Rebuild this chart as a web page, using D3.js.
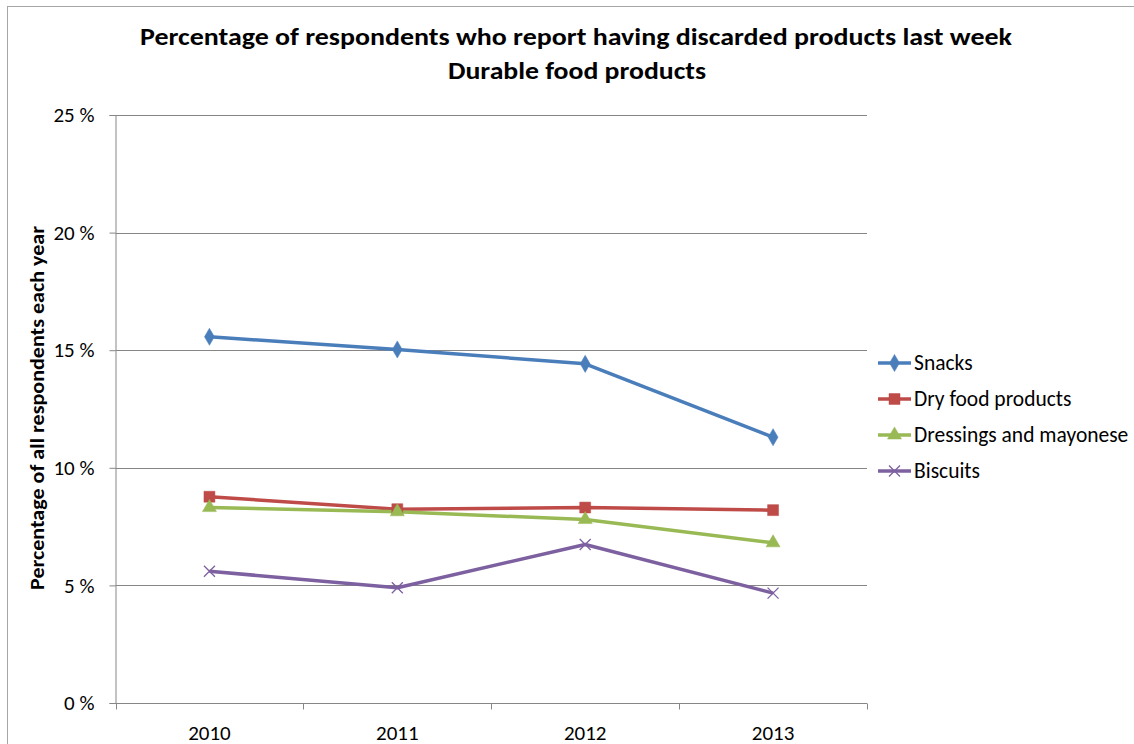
<!DOCTYPE html>
<html>
<head>
<meta charset="utf-8">
<script src="https://cdn.jsdelivr.net/npm/d3@7"></script>
<style>
  html, body { margin: 0; padding: 0; background: #fff; }
  svg { display: block; font-family: Calibri, Carlito, Lato, "Open Sans", sans-serif; }
</style>
</head>
<body>
<svg id="chart" width="1134" height="744"></svg>
<script>
// Survey years on the category axis
const years = ["2010", "2011", "2012", "2013"];

// Share of respondents (%) who discarded each product group last week
const snacks     = [15.57, 15.03, 14.42, 11.30];
const dryFood    = [8.77, 8.24, 8.31, 8.20];
const dressings  = [8.31, 8.13, 7.80, 6.81];
const biscuits   = [5.60, 4.90, 6.74, 4.67];

const seriesNames = ["Snacks", "Dry food products", "Dressings and mayonese", "Biscuits"];
const yTicks = [0, 5, 10, 15, 20, 25];

const titleLines = [
  "Percentage of respondents who report having discarded products last week",
  "Durable food products"
];
const yAxisTitle = "Percentage of all respondents each year";

const series = [
  { name: seriesNames[0], values: snacks,    color: "#4A7EBB", symbol: d3.symbolDiamond,  size: 85 },
  { name: seriesNames[1], values: dryFood,   color: "#BE4B48", symbol: d3.symbolSquare,   size: 120 },
  { name: seriesNames[2], values: dressings, color: "#98B954", symbol: d3.symbolTriangle, size: 85 },
  { name: seriesNames[3], values: biscuits,  color: "#7D60A0", symbol: "cross",           size: 0 }
];

const svg = d3.select("#chart");
const gridColor = "#868686";
const labelSize = 21;

// Chart frame
svg.append("rect")
  .attr("x", 7.5).attr("y", 6.5)
  .attr("width", 1140).attr("height", 760)
  .attr("fill", "none").attr("stroke", "#a6a6a6").attr("stroke-width", 1);

const plot = { left: 115.5, right: 867, top: 115, bottom: 703 };

const x = d3.scaleBand().domain(years).range([plot.left, plot.right]).paddingInner(0).paddingOuter(0);
const y = d3.scaleLinear().domain([0, 25]).range([plot.bottom, plot.top]);

// Horizontal gridlines
svg.append("g")
  .selectAll("line")
  .data(yTicks.filter(t => t > 0))
  .join("line")
  .attr("x1", plot.left).attr("x2", plot.right)
  .attr("y1", d => Math.round(y(d)) + 0.5).attr("y2", d => Math.round(y(d)) + 0.5)
  .attr("stroke", gridColor).attr("stroke-width", 1);

// Y axis
const yAxis = svg.append("g")
  .attr("transform", `translate(${plot.left},0)`)
  .call(d3.axisLeft(y).tickValues(yTicks).tickSize(6).tickPadding(15)
    .tickFormat(d => d + " %"));
yAxis.attr("font-size", labelSize).attr("font-family", null);
yAxis.select(".domain").attr("stroke", gridColor);
yAxis.selectAll(".tick line").attr("stroke", gridColor);
yAxis.selectAll(".tick text").attr("fill", "#000");

// X axis with ticks between categories
const xAxisG = svg.append("g").attr("transform", `translate(0,${Math.round(plot.bottom) + 0.5})`);
xAxisG.append("line")
  .attr("x1", plot.left).attr("x2", plot.right)
  .attr("stroke", gridColor);
const boundaries = years.map(d => x(d)).concat([x(years[years.length - 1]) + x.bandwidth()]);
xAxisG.selectAll("line.tk")
  .data(boundaries)
  .join("line").attr("class", "tk")
  .attr("x1", d => Math.round(d) + 0.5).attr("x2", d => Math.round(d) + 0.5)
  .attr("y1", 0).attr("y2", 6)
  .attr("stroke", gridColor);
xAxisG.selectAll("text")
  .data(years)
  .join("text")
  .attr("x", d => x(d) + x.bandwidth() / 2)
  .attr("y", 36)
  .attr("text-anchor", "middle")
  .attr("font-size", labelSize)
  .text(d => d);

// Lines
const line = d3.line()
  .x((d, i) => x(years[i]) + x.bandwidth() / 2)
  .y(d => y(d));

series.forEach(s => {
  svg.append("path")
    .datum(s.values)
    .attr("d", line)
    .attr("fill", "none")
    .attr("stroke", s.color)
    .attr("stroke-width", 3.5)
    .attr("stroke-linejoin", "round");
});

// Markers
function drawMarker(g, s, cx, cy) {
  if (s.symbol === "cross") {
    const r = 5.5;
    g.append("path")
      .attr("d", `M${cx - r},${cy - r}L${cx + r},${cy + r}M${cx - r},${cy + r}L${cx + r},${cy - r}`)
      .attr("stroke", s.color).attr("stroke-width", 1.3).attr("fill", "none");
  } else {
    g.append("path")
      .attr("d", d3.symbol().type(s.symbol).size(s.size)())
      .attr("transform", `translate(${cx},${cy})`)
      .attr("fill", s.color).attr("stroke", s.color).attr("stroke-width", 0.5);
  }
}

series.forEach(s => {
  const g = svg.append("g");
  s.values.forEach((v, i) => drawMarker(g, s, x(years[i]) + x.bandwidth() / 2, y(v)));
});

// Title
const titleG = svg.append("g").attr("font-weight", "bold").attr("font-size", 25).attr("text-anchor", "middle");
titleG.append("text").attr("x", 576).attr("y", 45).attr("textLength", 872).attr("lengthAdjust", "spacingAndGlyphs").text(titleLines[0]);
titleG.append("text").attr("x", 577).attr("y", 79).attr("textLength", 258).attr("lengthAdjust", "spacingAndGlyphs").text(titleLines[1]);

// Y axis title
svg.append("text")
  .attr("transform", "translate(44,408) rotate(-90)")
  .attr("text-anchor", "middle")
  .attr("font-weight", "bold")
  .attr("font-size", 20)
  .attr("textLength", 364).attr("lengthAdjust", "spacingAndGlyphs")
  .text(yAxisTitle);

// Legend
const legendRows = [363, 399, 435, 471];
series.forEach((s, i) => {
  const g = svg.append("g");
  const cy = legendRows[i];
  g.append("line").attr("x1", 878).attr("x2", 911).attr("y1", cy).attr("y2", cy)
    .attr("stroke", s.color).attr("stroke-width", 3.5);
  drawMarker(g, s, 894.5, cy);
  g.append("text").attr("x", 914).attr("y", cy + 7).attr("font-size", 21.5).text(s.name);
});
</script>
</body>
</html>
